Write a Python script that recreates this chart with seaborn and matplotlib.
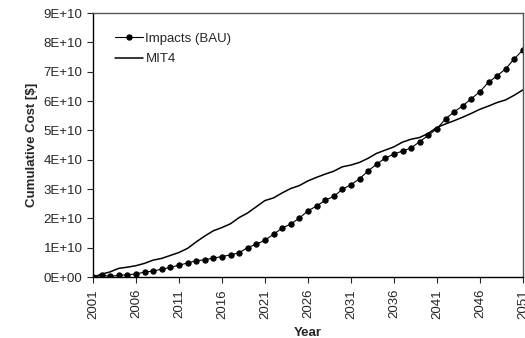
import numpy as np
import pandas as pd
import seaborn as sns
import matplotlib.pyplot as plt
from matplotlib.ticker import FuncFormatter

years = list(range(2001, 2052))

# cumulative cost, in units of 1E+10 $
bau = [0.0, 0.06, 0.03, 0.06, 0.08, 0.11, 0.17, 0.21, 0.27, 0.33,
       0.41, 0.48, 0.56, 0.59, 0.65, 0.70, 0.76, 0.83, 1.01, 1.12,
       1.26, 1.46, 1.67, 1.81, 2.01, 2.26, 2.42, 2.62, 2.75, 2.99,
       3.15, 3.35, 3.62, 3.85, 4.06, 4.19, 4.30, 4.40, 4.62, 4.83,
       5.06, 5.39, 5.63, 5.84, 6.08, 6.32, 6.64, 6.86, 7.10, 7.44,
       7.74]
mit4 = [0.0, 0.10, 0.18, 0.30, 0.34, 0.39, 0.47, 0.58, 0.64, 0.74,
        0.84, 0.98, 1.20, 1.40, 1.58, 1.69, 1.82, 2.03, 2.19, 2.40,
        2.61, 2.70, 2.87, 3.02, 3.12, 3.28, 3.40, 3.51, 3.61, 3.76,
        3.82, 3.91, 4.05, 4.22, 4.33, 4.44, 4.60, 4.70, 4.76, 4.90,
        5.10, 5.22, 5.33, 5.45, 5.58, 5.72, 5.83, 5.95, 6.04, 6.20,
        6.38]

df = pd.DataFrame({
    "Year": years,
    "Impacts (BAU)": np.array(bau) * 1e10,
    "MIT4": np.array(mit4) * 1e10,
})

sns.set_style("white")
plt.rcParams["font.family"] = ["Liberation Sans", "DejaVu Sans"]

fig = plt.figure(figsize=(5.25, 3.38), dpi=100)
ax = fig.add_axes([0.177, 0.18, 0.819, 0.7815])

sns.lineplot(data=df, x="Year", y="Impacts (BAU)", ax=ax, color="black",
             linewidth=0.8, marker="o", markersize=3.8,
             markeredgecolor="black", label="Impacts (BAU)")
sns.lineplot(data=df, x="Year", y="MIT4", ax=ax, color="black",
             linewidth=1.1, label="MIT4")

ax.set_xlim(2001, 2051)
ax.set_ylim(0, 9e10)
ax.set_xticks(range(2001, 2052, 5))
ax.set_yticks(np.arange(0, 9.5e10, 1e10))
ax.yaxis.set_major_formatter(FuncFormatter(lambda v, p: "%dE+%02d" % (round(v / 1e10), 10) if v > 0 else "0E+00"))
ax.tick_params(axis="x", labelrotation=90, labelsize=9.5, length=4.5, width=0.8,
               direction="out", bottom=True, pad=4)
ax.tick_params(axis="y", labelsize=9.5, length=4.5, width=0.8,
               direction="out", left=True, pad=3)

for s in ["left", "bottom"]:
    ax.spines[s].set_color("black")
    ax.spines[s].set_linewidth(1.0)
for s in ["top", "right"]:
    ax.spines[s].set_color("#555555")
    ax.spines[s].set_linewidth(1.0)

ax.set_xlabel("Year", fontsize=9.5, fontweight="bold", labelpad=6)
ax.set_ylabel("Cumulative Cost [$]", fontsize=9.5, fontweight="bold", labelpad=4)

ax.legend(loc="upper left", bbox_to_anchor=(0.03, 0.96), frameon=False,
          fontsize=9.5, handlelength=2.1, handletextpad=0.2, labelspacing=0.62,
          borderaxespad=0.3)

fig.savefig("out.png", dpi=100)
